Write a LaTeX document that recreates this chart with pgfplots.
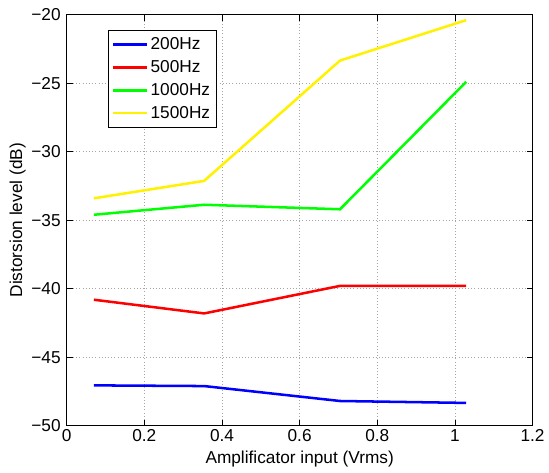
\documentclass[border=0pt]{standalone}
\usepackage{fontspec}
\setmainfont{Liberation Sans}
\usepackage{pgfplots}
\pgfplotsset{compat=1.18}
\begin{document}
\begin{tikzpicture}[x=1pt,y=1pt]
\begin{axis}[
  at={(0,0)}, anchor=south west,
  scale only axis,
  width=351pt, height=309.75pt,
  xmin=0, xmax=1.2, ymin=-50, ymax=-20,
  xtick={0,0.2,...,1.2},
  ytick={-50,-45,...,-20},
  xticklabels={0,0.2,0.4,0.6,0.8,1,1.2},
  yticklabels={−50,−45,−40,−35,−30,−25,−20},
  tick align=inside,
  major tick length=4.5pt,
  tick style={black, line width=0.5pt},
  axis line style={black, line width=0.6pt},
  grid=major,
  grid style={gray!70, dotted, line width=0.5pt},
  tick label style={font=\fontsize{13}{15}\selectfont},
  xticklabel style={yshift=1pt},
  yticklabel style={xshift=-1pt},
  label style={font=\fontsize{13}{15}\selectfont},
  xlabel={Amplificator input (Vrms)},
  ylabel={Distorsion level (dB)},
  xlabel style={at={(axis description cs:0.5,0)}, anchor=center, yshift=-25pt},
  ylabel style={at={(axis description cs:-0.105,0.5)}, anchor=center, rotate=0},
  legend style={at={(0.0876,0.963)}, anchor=north west, draw=black, line width=0.6pt,
     font=\fontsize{13}{15}\selectfont, inner xsep=3pt, inner ysep=3.5pt, row sep=2.6pt},
  legend cell align=left,
  legend image code/.code={\draw[#1, line width=2.2pt] (-1pt,0pt) -- (24pt,0pt);},
]
\addplot[blue, line width=1.9pt] coordinates {(0.07,-47.05) (0.354,-47.1) (0.704,-48.19) (1.029,-48.33)};
\addlegendentry{200Hz}
\addplot[red, line width=1.9pt] coordinates {(0.07,-40.8) (0.354,-41.8) (0.704,-39.79) (1.029,-39.79)};
\addlegendentry{500Hz}
\addplot[green, line width=1.9pt] coordinates {(0.07,-34.6) (0.354,-33.87) (0.704,-34.2) (1.029,-24.9)};
\addlegendentry{1000Hz}
\addplot[yellow, line width=1.9pt] coordinates {(0.07,-33.4) (0.354,-32.13) (0.704,-23.35) (1.029,-20.4)};
\addlegendentry{1500Hz}
\end{axis}
\useasboundingbox (-50.25pt,-35.25pt) rectangle (361.5pt,320.8pt);
\end{tikzpicture}
\end{document}
